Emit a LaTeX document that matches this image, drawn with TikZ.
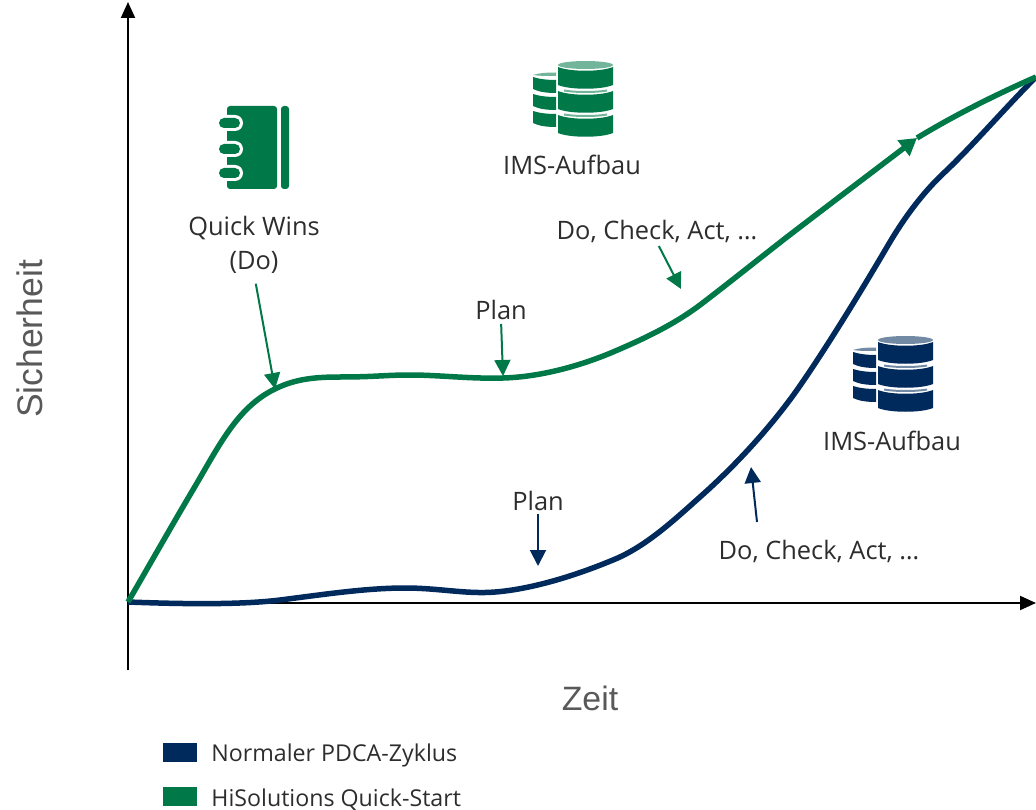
\documentclass[tikz,border=0pt]{standalone}
\usepackage{fontspec}
\setmainfont{Open Sans}
\newfontfamily\axisfont{Liberation Sans}
\usetikzlibrary{arrows.meta, positioning, calc}
\definecolor{hisogreen}{RGB}{0, 120, 72}
\definecolor{pdcablue}{RGB}{0, 42, 92}
\definecolor{labelgray}{RGB}{45, 45, 45}
\definecolor{axisgray}{RGB}{89, 89, 89}

% database stack icon: colour, x shift, y shift
\newcommand{\dbstack}[3]{
    \begin{scope}[shift={(#2,#3)}]
        % small stack
        \fill[#1!55] (533,75) .. controls (539,73) and (547,72.5) .. (556,72.5) -- (556,76) .. controls (547,76) and (539,76) .. (533,75) -- cycle;
        \foreach \ytop in {77,94,111}{
            \fill[#1] (533,\ytop) .. controls (539,\ytop+2) and (547,\ytop+3) .. (556,\ytop+3)
                -- (556,\ytop+16) .. controls (547,\ytop+16) and (539,\ytop+15) .. (533,\ytop+12) -- cycle;
        }
        % large stack
        \fill[#1!55] (585.5,65) ellipse[x radius=27.5, y radius=4];
        \foreach \ytop in {67,91,115}{
            \fill[#1] (558,\ytop) .. controls (570,\ytop+5) and (601,\ytop+5) .. (613,\ytop)
                -- (613,\ytop+18) .. controls (601,\ytop+23) and (570,\ytop+23) .. (558,\ytop+18) -- cycle;
        }
        \foreach \ystrip in {89.5,113.5}{
            \fill[#1!55] (564,\ystrip) .. controls (575,\ystrip+2) and (596,\ystrip+2) .. (607,\ystrip) -- (607,\ystrip+2) .. controls (596,\ystrip+4) and (575,\ystrip+4) .. (564,\ystrip+2) -- cycle;
        }
    \end{scope}
}

\begin{document}
\begin{tikzpicture}[x=1pt, y=-1pt]
    % Styles
    \tikzstyle{lbl}=[text=labelgray, font=\fontsize{25.4}{30}\selectfont, inner sep=0pt]
    \tikzstyle{keylbl}=[text=labelgray, font=\fontsize{23.2}{26}\selectfont, inner sep=0pt, yshift=-3pt]
    \tikzstyle{axislbl}=[text=axisgray, inner sep=0pt]
    \tikzstyle{axisline}=[black, line width=2pt, -{Triangle[length=16pt, width=14pt]}]
    \tikzstyle{curvegreen}=[hisogreen, line width=5.5pt]
    \tikzstyle{curveblue}=[pdcablue, line width=5.5pt]
    \tikzstyle{hint}=[line width=2pt, -{Triangle[length=16pt, width=16pt]}]
    \tikzstyle{legendbox}=[minimum width=34pt, minimum height=19pt, inner sep=0pt]

    \useasboundingbox (0,0) rectangle (1036,810);

    % Axes
    \coordinate (origin) at (128,602);
    \coordinate (ybot) at (128,670);
    \coordinate (ytop) at (128,2);
    \coordinate (xend) at (1036,603);
    \draw[axisline] (ybot) -- (ytop);
    \draw[axisline] (origin |- xend) -- (xend);
    \node[axislbl, rotate=90, font=\axisfont\fontsize{35.5}{40}\selectfont] (ylabel) at (30,339) {Sicherheit};
    \node[axislbl, font=\axisfont\fontsize{33.8}{38}\selectfont] (xlabel) at (590,698) {Zeit};

    % Normal curve
    \draw[curveblue] (origin) .. controls (180,604) and (240,605) .. (280,600)
        .. controls (320,595) and (365,588) .. (405,588)
        .. controls (435,588) and (460,593) .. (485,592.5)
        .. controls (515,592) and (560,582) .. (613,560)
        .. controls (645,547) and (672,522) .. (700,497)
        .. controls (735,466) and (770,428) .. (797,390)
        .. controls (825,350) and (860,293) .. (887,247)
        .. controls (905,216) and (925,190) .. (947,170)
        .. controls (975,143) and (1005,108) .. (1036,77);

    % Quick start curve
    \draw[curvegreen, -{Triangle[length=17pt, width=19pt]}] (origin) .. controls (150,564) and (175,520) .. (197,483)
        .. controls (222,440) and (240,405) .. (277,388)
        .. controls (296,379) and (315,377) .. (340,377)
        .. controls (375,377) and (385,375) .. (410,375)
        .. controls (440,375) and (470,379) .. (503,378)
        .. controls (540,377) and (580,366) .. (613,352)
        .. controls (640,340.5) and (672,326) .. (700,305)
        .. controls (725,286) and (760,258) .. (787,237)
        .. controls (830,204) and (875,170) .. (917,138);
    \draw[curvegreen] (917,138) .. controls (955,115) and (995,95) .. (1036,77);

    % Notebook icon
    \fill[hisogreen, rounded corners=3pt] (227,106) rectangle (277,189);
    \fill[hisogreen, rounded corners=3pt] (281,106) rectangle (289,189);
    \foreach \yc in {123,149,173}{
        \fill[white, rounded corners=8pt] (215,\yc-8) rectangle (243,\yc+8);
        \fill[hisogreen, rounded corners=5pt] (219,\yc-5) rectangle (240,\yc+5);
    }

    % Database icons
    \dbstack{hisogreen}{0}{0}
    \dbstack{pdcablue}{320}{275}

    % Labels
    \node[lbl, align=center] (quick) at (254,245) {Quick Wins\\[4pt](Do)};
    \node[lbl] (imsgreen) at (572,165) {IMS-Aufbau};
    \node[lbl] (dogreen) at (657,231) {Do, Check, Act, …};
    \node[lbl] (plangreen) at (501,310) {Plan};
    \node[lbl] (planblue) at (538,501) {Plan};
    \node[lbl] (imsblue) at (892,441) {IMS-Aufbau};
    \node[lbl] (doblue) at (819,551) {Do, Check, Act, …};

    % Hint arrows
    \coordinate (quicktip) at (275,389);
    \coordinate (plangreentip) at (503,376);
    \coordinate (dogreentip) at (681,289);
    \coordinate (planbluetip) at (538,566);
    \coordinate (dobluefoot) at (757,522);
    \coordinate (dobluetip) at (751,467);
    \draw[hint, hisogreen, shorten <=10pt] (quick.south) -- (quicktip);
    \draw[hint, hisogreen, shorten <=4pt] (plangreen.south) -- (plangreentip);
    \draw[hint, hisogreen, shorten <=4pt] (dogreen.south) -- (dogreentip);
    \draw[hint, pdcablue, shorten <=3pt] (planblue.south) -- (planbluetip);
    \draw[hint, pdcablue] (dobluefoot) -- (dobluetip);

    % Legend
    \node[legendbox, fill=pdcablue] (keyblue) at (180,752.5) {};
    \node[legendbox, fill=hisogreen] (keygreen) at (180,796.5) {};
    \node[keylbl, right=14pt of keyblue] (textblue) {Normaler PDCA-Zyklus};
    \node[keylbl, right=14pt of keygreen] (textgreen) {HiSolutions Quick-Start};
\end{tikzpicture}
\end{document}
